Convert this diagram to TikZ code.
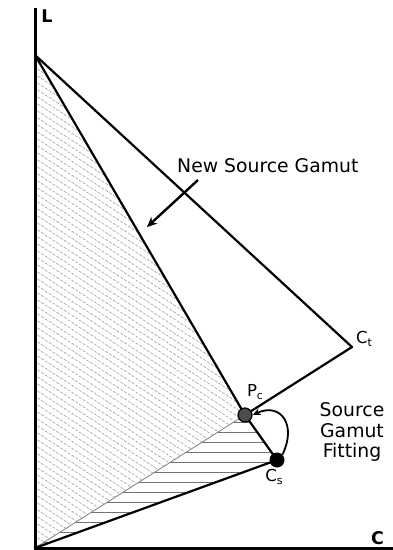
\documentclass[tikz,border=0pt]{standalone}
\usepackage{fontspec}
\setmainfont{DejaVu Sans}
\usetikzlibrary{arrows.meta}
\newcommand{\mysubsz}{\fontsize{11}{11}\selectfont}
\begin{document}
\begin{tikzpicture}[x=1pt,y=-1pt,
  axis/.style={line width=3pt},
  gamut/.style={line width=2.2pt},
  dhatch/.style={black!40,line width=0.55pt,dash pattern=on 3pt off 1.5pt},
  hhatch/.style={black!55,line width=0.7pt},
  bigtxt/.style={font=\fontsize{18.8}{20.5}\selectfont, inner sep=0pt},
  smalltxt/.style={font=\fontsize{16.5}{16.5}\selectfont, inner sep=0pt},
  axlbl/.style={font=\fontsize{17.5}{17.5}\selectfont\bfseries, inner sep=0pt},
  pcdot/.style={circle, fill=black!70, draw=black, line width=1.2pt, minimum size=14pt, inner sep=0pt},
  csdot/.style={circle, fill=black, minimum size=15pt, inner sep=0pt},
  tip/.style={-{Stealth[length=10pt,width=9pt]}}
]
\useasboundingbox (0,0) rectangle (393,550);
\coordinate (W) at (35,55);
\coordinate (O) at (35,548);
\coordinate (Ct) at (352,347);
\coordinate (Ltop) at (35,8);
\coordinate (Cend) at (393,548);
\coordinate (pc) at (245,415);
\coordinate (cs) at (277,460);
\coordinate (arrS) at (198,180);
\coordinate (arrE) at (147,227);

% diagonal hatch of the new source gamut
\begin{scope}
  \clip (W) -- (pc) -- (O) -- cycle;
  \foreach \b in {-300,-293,...,560} \draw[dhatch] (30,\b) -- (260,\b+150);
\end{scope}
% horizontal hatch
\begin{scope}
  \clip (pc) -- (cs) -- (O) -- cycle;
  \foreach \y in {422,432,...,542} \draw[hhatch] (30,\y) -- (290,\y);
\end{scope}
\draw[black!50, line width=0.8pt] (pc) -- (O);

% axes
\draw[axis] (Ltop) -- (O) -- (Cend);
% gamut lines
\draw[gamut, line join=round] (W) -- (Ct) -- (pc);
\draw[gamut, line join=round] (W) -- (pc) -- (cs) -- (O);

% points
\node[pcdot] (Pc) at (pc) {};
\node[csdot] (Cs) at (cs) {};

% arrows
\draw[line width=2.4pt, tip] (arrS) -- (arrE);
\draw[line width=1.8pt, -{Stealth[length=8pt,width=7pt]}] (Cs.north east) .. controls (297,425) and (281,402) .. (Pc.east);

% labels
\node[axlbl] (Llbl) at (47,16.5) {L};
\node[axlbl] (Clbl) at (377.5,538) {C};
\node[bigtxt, anchor=base west] (nsg) at (177,172) {New Source Gamut};
\node[bigtxt, align=center, anchor=north] (sgf) at (352,402.5) {Source\\Gamut\\Fitting};
\node[smalltxt] (PcL) at (255,392) {P\raisebox{-2.5pt}{\mysubsz c}};
\node[smalltxt] (CsL) at (274,477) {C\raisebox{-2.5pt}{\mysubsz s}};
\node[smalltxt] (CtL) at (364,339) {C\raisebox{-2.5pt}{\mysubsz t}};
\end{tikzpicture}
\end{document}
